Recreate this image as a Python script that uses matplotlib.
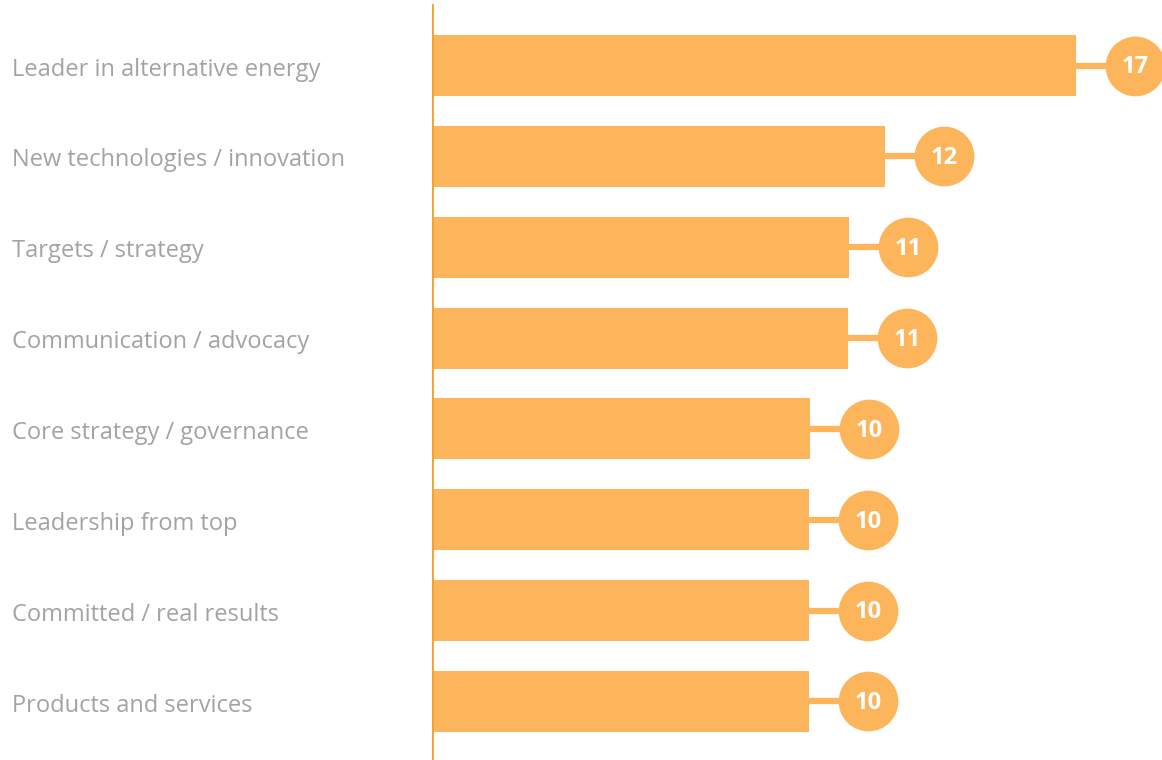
import matplotlib.pyplot as plt
import matplotlib.transforms as mtransforms

categories = [
    "Leader in alternative energy",
    "New technologies / innovation",
    "Targets / strategy",
    "Communication / advocacy",
    "Core strategy / governance",
    "Leadership from top",
    "Committed / real results",
    "Products and services",
]
values = [17.0, 11.96, 11.01, 10.98, 9.98, 9.95, 9.95, 9.95]
labels = [17, 12, 11, 11, 10, 10, 10, 10]

bar_color = "#FDB55C"
axis_color = "#F5A12A"
text_color = "#A3A3A6"

fig = plt.figure(figsize=(11.62, 7.6), dpi=100)
ax = fig.add_axes([432 / 1162, 0, 730 / 1162, 1])

pos = list(range(len(categories)))
ax.barh(pos, values, height=0.671, color=bar_color, zorder=2)

offset = 1.56
for y, v, lab in zip(pos, values, labels):
    ax.plot([v, v + offset], [y, y], color=bar_color, linewidth=4.5, zorder=1,
            solid_capstyle="butt")
    ax.scatter([v + offset], [y], s=1850, color=bar_color, zorder=3, clip_on=False,
               linewidths=0)
    ax.text(v + offset, y + 0.02, str(lab), ha="center", va="center", color="white",
            fontsize=17, fontweight="bold", family="Open Sans", zorder=4)

ax.axvline(0, ymin=0, ymax=0.993, color=axis_color, linewidth=2, zorder=5)

trans = mtransforms.blended_transform_factory(fig.transFigure, ax.transData)
for y, name in zip(pos, categories):
    ax.text(12 / 1162, y + 0.045, name, transform=trans, ha="left", va="center",
            color=text_color, fontsize=17, family="Open Sans")

ax.set_xlim(0, 730 / 37.88)
ax.set_ylim(7.644, -0.721)
ax.axis("off")

fig.savefig("out.png", dpi=100)
